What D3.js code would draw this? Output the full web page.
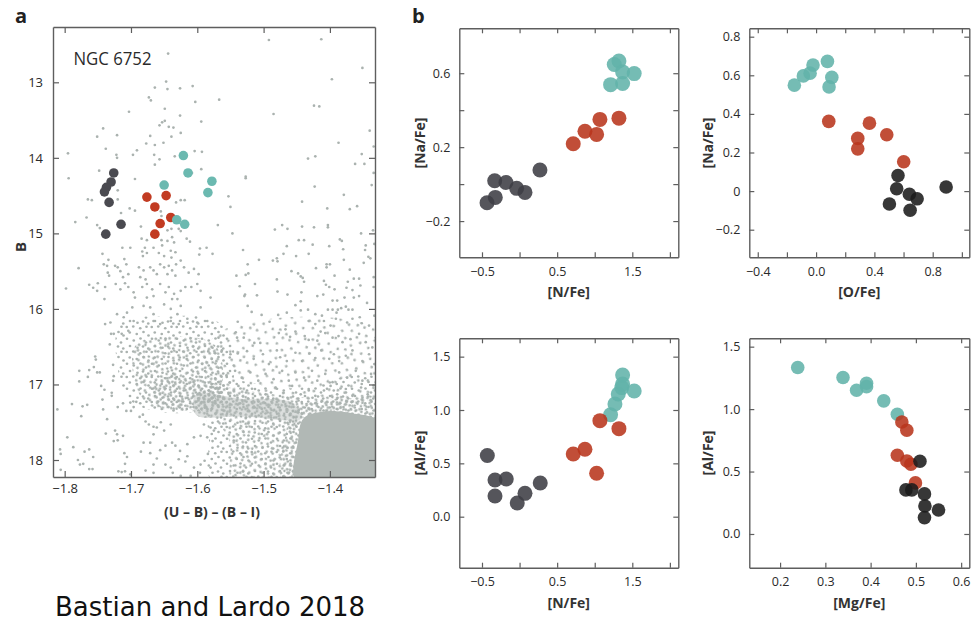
<!DOCTYPE html>
<html>
<head>
<meta charset="utf-8">
<script src="https://cdn.jsdelivr.net/npm/d3@7"></script>
<style>
  body { margin: 0; background: #fff; }
  svg { display: block; }
</style>
</head>
<body>
<svg id="fig" width="973" height="622"></svg>
<script>
// ---------------------------------------------------------------------------
// Panel a: NGC 6752 pseudo-colour–magnitude diagram
// ---------------------------------------------------------------------------

// Spectroscopic targets, [(U−B)−(B−I), B], grouped by population
const cmdPop1 = [[-1.726,14.20],[-1.730,14.32],[-1.737,14.39],[-1.740,14.45],[-1.733,14.59],[-1.715,14.88],[-1.738,15.01]];
const cmdPop2 = [[-1.676,14.52],[-1.647,14.50],[-1.664,14.65],[-1.640,14.79],[-1.656,14.87],[-1.664,15.01]];
const cmdPop3 = [[-1.621,13.97],[-1.614,14.20],[-1.650,14.36],[-1.578,14.31],[-1.584,14.46],[-1.631,14.82],[-1.619,14.88]];

// Photometric field, bright / sparse part
const fieldBright = [[-1.644,12.62],[-1.647,12.99],[-1.664,13.07],[-1.645,13.09],[-1.626,13.08],[-1.607,13.05],[-1.673,13.20],[-1.670,13.24],[-1.603,13.26],[-1.703,13.39],[-1.649,13.35],[-1.626,13.44],[-1.653,13.53],[-1.649,13.51],[-1.657,13.57],[-1.643,13.59],[-1.636,13.60],[-1.594,13.52],[-1.742,13.61],[-1.751,13.72],[-1.721,13.70],[-1.671,13.71],[-1.639,13.72],[-1.625,13.67],[-1.677,13.81],[-1.664,13.83],[-1.651,13.80],[-1.738,13.88],[-1.691,13.90],[-1.697,13.96],[-1.795,13.94],[-1.722,13.96],[-1.721,14.00],[-1.665,13.96],[-1.657,14.02],[-1.664,14.09],[-1.634,13.98],[-1.604,13.91],[-1.593,13.92],[-1.748,14.17],
  [-1.492,12.44],[-1.413,12.43],[-1.351,12.81],[-1.397,12.96],[-1.567,13.23],[-1.424,13.31],[-1.416,13.32],[-1.485,13.42],[-1.340,13.64],[-1.387,13.80],[-1.334,13.85],[-1.433,14.01],[-1.422,13.98],[-1.352,13.95],[-1.362,14.08],[-1.348,14.08],[-1.334,14.20],[-1.527,14.25],[-1.594,14.15],[-1.608,14.20]];

// Upper red-giant branch region
const fieldRGB = [[-1.794,14.27],[-1.694,14.28],[-1.720,14.43],[-1.720,14.55],[-1.765,14.55],[-1.759,14.56],[-1.625,14.56],[-1.619,14.56],[-1.632,14.59],[-1.702,14.67],[-1.694,14.70],[-1.715,14.73],[-1.767,14.79],[-1.784,14.85],[-1.751,14.89],[-1.747,14.93],[-1.685,14.91],[-1.640,14.83],[-1.645,14.96],[-1.639,14.94],[-1.655,14.71],[-1.654,14.77],[-1.628,14.94],[-1.625,14.97],[-1.616,15.07],[-1.611,15.11],[-1.638,15.05],[-1.635,15.12],[-1.645,15.10],[-1.713,15.19],[-1.701,15.19],[-1.684,15.07],[-1.676,15.09],[-1.666,15.19],[-1.654,15.09],[-1.653,15.16],[-1.679,15.19],[-1.683,15.24],[-1.682,15.30],[-1.676,15.26],[-1.658,15.26],[-1.650,15.30],[-1.640,15.23],[-1.633,15.25],[-1.639,15.32],[-1.625,15.36],[-1.632,15.41],[-1.596,15.20],[-1.586,15.19],[-1.597,15.28],[-1.743,15.27],[-1.734,15.35],[-1.741,15.41],[-1.736,15.43],[-1.724,15.43],[-1.720,15.45],[-1.710,15.34],[-1.707,15.41],[-1.779,15.46],[-1.735,15.52],[-1.733,15.56],[-1.716,15.50],[-1.712,15.58],[-1.704,15.54],[-1.688,15.45],[-1.681,15.49],[-1.686,15.58],[-1.678,15.61],[-1.671,15.45],[-1.666,15.49],[-1.661,15.54],[-1.656,15.41],[-1.650,15.45],[-1.643,15.43],[-1.638,15.49],[-1.645,15.54],[-1.633,15.56],[-1.620,15.45],[-1.613,15.52],[-1.605,15.47],[-1.598,15.54],[-1.798,15.73],[-1.763,15.68],[-1.757,15.72],[-1.750,15.66],[-1.751,15.76],[-1.739,15.71],[-1.740,15.87],[-1.723,15.67],[-1.716,15.74],[-1.709,15.66],[-1.704,15.71],[-1.696,15.78],[-1.694,15.85],[-1.683,15.71],[-1.676,15.67],[-1.668,15.74],[-1.666,15.83],[-1.676,15.85],[-1.656,15.67],[-1.648,15.78],[-1.643,15.71],[-1.635,15.80],[-1.625,15.76],[-1.630,15.87],[-1.638,15.87],[-1.618,15.71],[-1.609,15.71],[-1.600,15.67],[-1.595,15.76],[-1.681,15.96],[-1.671,15.98],[-1.666,16.07],[-1.650,15.94],[-1.640,16.00],[-1.630,16.07],[-1.625,15.96],[-1.721,16.07],[-1.711,16.11],[-1.706,16.05],[-1.696,16.16],[-1.698,15.98],[-1.739,16.20],[-1.731,16.18],[-1.666,16.16],[-1.656,16.20],[-1.640,16.16],[-1.628,16.20],[-1.615,16.13],[-1.600,16.18],[-1.585,16.16],[-1.577,15.27],[-1.580,15.85],[-1.595,15.98]];

// Redder field stars above the subgiant branch
const fieldRed = [[-1.527,14.27],[-1.423,14.38],[-1.379,14.49],[-1.337,14.36],[-1.553,14.51],[-1.550,14.65],[-1.442,14.58],[-1.404,14.67],[-1.370,14.68],[-1.359,14.64],[-1.569,14.89],[-1.547,15.00],[-1.483,14.95],[-1.472,14.89],[-1.464,14.94],[-1.442,14.91],[-1.424,14.92],[-1.403,14.89],[-1.403,14.92],[-1.353,15.00],[-1.335,14.96],[-1.447,15.09],[-1.439,15.09],[-1.385,15.08],[-1.382,15.10],[-1.465,15.17],[-1.426,15.15],[-1.401,15.17],[-1.380,15.21],[-1.346,15.16],[-1.347,15.22],[-1.531,15.22],[-1.480,15.33],[-1.479,15.37],[-1.486,15.36],[-1.470,15.27],[-1.451,15.30],[-1.432,15.27],[-1.507,15.35],[-1.524,15.41],[-1.421,15.46],[-1.405,15.41],[-1.405,15.45],[-1.400,15.41],[-1.393,15.56],[-1.379,15.35],[-1.370,15.48],[-1.349,15.39],[-1.342,15.31],[-1.339,15.33],[-1.458,15.50],[-1.448,15.53],[-1.444,15.57],[-1.441,15.59],[-1.439,15.64],[-1.527,15.55],[-1.523,15.53],[-1.541,15.56],[-1.536,15.70],[-1.513,15.67],[-1.480,15.61],[-1.479,15.77],[-1.528,15.81],[-1.529,15.83],[-1.510,15.82],[-1.464,15.81],[-1.443,15.78],[-1.409,15.63],[-1.406,15.68],[-1.401,15.71],[-1.393,15.74],[-1.419,15.83],[-1.410,15.81],[-1.373,15.64],[-1.364,15.60],[-1.356,15.60],[-1.354,15.69],[-1.366,15.75],[-1.375,15.72],[-1.378,15.85],[-1.364,15.85],[-1.356,15.83],[-1.334,15.71],[-1.344,15.92],[-1.524,15.96],[-1.518,16.04],[-1.503,16.08],[-1.478,16.08],[-1.491,16.17],[-1.539,16.17],[-1.465,16.05],[-1.452,15.95],[-1.444,15.90],[-1.444,16.02],[-1.433,16.01],[-1.422,16.07],[-1.412,16.09],[-1.403,16.01],[-1.396,16.01],[-1.390,16.05],[-1.388,16.01],[-1.383,15.99],[-1.376,15.97],[-1.372,16.01],[-1.366,16.01],[-1.396,15.89],[-1.389,15.89],[-1.374,16.18],[-1.366,16.13],[-1.355,16.11],[-1.352,16.19],[-1.341,16.22],[-1.333,16.09],[-1.432,16.16],[-1.422,16.20],[-1.409,16.16],[-1.399,16.22],[-1.391,16.13],[-1.333,15.14],[-1.334,15.58],
  [-1.568,16.38],[-1.542,16.31],[-1.540,16.38],[-1.530,16.38],[-1.514,16.45],[-1.505,16.45],[-1.477,16.32],[-1.467,16.27],[-1.460,16.37],[-1.452,16.30],[-1.438,16.36],[-1.432,16.41],[-1.419,16.42],[-1.414,16.30],[-1.407,16.32],[-1.396,16.38],[-1.387,16.36],[-1.381,16.44],[-1.369,16.40],[-1.356,16.33],[-1.346,16.44],[-1.336,16.51],[-1.331,16.38],
  [-1.563,16.55],[-1.550,16.60],[-1.539,16.59],[-1.525,16.56],[-1.515,16.66],[-1.501,16.60],[-1.492,16.73],[-1.480,16.55],[-1.475,16.64],[-1.465,16.69],[-1.452,16.58],[-1.442,16.69],[-1.431,16.59],[-1.422,16.65],[-1.413,16.55],[-1.401,16.66],[-1.394,16.60],[-1.386,16.69],[-1.376,16.62],[-1.366,16.55],[-1.351,16.69],[-1.341,16.60],[-1.333,16.73],
  [-1.568,16.78],[-1.556,16.88],[-1.543,16.82],[-1.533,16.91],[-1.520,16.84],[-1.508,16.95],[-1.497,16.86],[-1.485,16.93],[-1.472,16.82],[-1.462,16.95],[-1.452,16.84],[-1.439,16.91],[-1.427,16.82],[-1.419,16.95],[-1.407,16.86],[-1.396,16.97],[-1.386,16.84],[-1.374,16.91],[-1.361,16.82],[-1.351,16.95],[-1.338,16.86],[-1.331,16.97],
  [-1.566,17.04],[-1.553,17.11],[-1.538,17.02],[-1.525,17.08],[-1.513,17.06],[-1.497,17.13],[-1.482,17.04],[-1.470,17.11],[-1.457,17.02],[-1.444,17.13],[-1.432,17.06],[-1.422,17.15],[-1.409,17.08],[-1.399,17.02],[-1.389,17.13],[-1.376,17.06],[-1.366,17.15],[-1.353,17.04],[-1.343,17.13],[-1.332,17.08]];

// Faint blue field below the red-giant branch
const fieldFaint = [[-1.730,16.33],[-1.726,16.33],[-1.714,16.33],[-1.704,16.29],[-1.732,16.47],[-1.754,16.63],[-1.753,16.67],[-1.778,16.82],[-1.778,16.96],[-1.763,16.81],[-1.765,16.90],[-1.756,16.77],[-1.751,16.84],[-1.747,16.84],[-1.745,17.02],[-1.740,17.07],[-1.727,16.74],[-1.726,16.89],[-1.727,16.95],[-1.729,17.11],[-1.729,17.15],[-1.811,17.33],[-1.789,17.26],[-1.773,17.29],[-1.766,17.27],[-1.775,17.42],[-1.743,17.20],[-1.742,17.33],[-1.736,17.46],[-1.720,17.30],[-1.796,17.70],[-1.787,17.83],[-1.807,17.86],[-1.806,17.92],[-1.770,17.89],[-1.763,17.86],[-1.757,17.96],[-1.780,18.00],[-1.777,18.06],[-1.772,18.05],[-1.763,18.12],[-1.758,18.12],[-1.806,18.13],[-1.738,17.65],[-1.724,17.61],[-1.721,17.66],[-1.726,17.75],[-1.720,17.74],[-1.712,17.68],[-1.710,17.91],[-1.709,18.05],[-1.706,17.96],[-1.719,18.15],[-1.714,18.16],[-1.709,18.15],[-1.701,18.19],[-1.681,17.77],[-1.671,17.77],[-1.666,17.66],[-1.666,17.56],[-1.661,17.57],[-1.678,17.49],[-1.673,17.53],[-1.655,17.50],[-1.650,17.61],[-1.640,17.53],[-1.638,17.77],[-1.648,17.81],[-1.685,17.89],[-1.671,17.91],[-1.661,17.98],[-1.656,17.87],[-1.678,18.14],[-1.666,18.17],[-1.666,18.06],[-1.648,18.06],[-1.640,18.10],[-1.637,18.17],[-1.633,17.81],[-1.626,17.88],[-1.628,17.99],[-1.618,18.02],[-1.615,17.95],[-1.605,18.10],[-1.595,18.06],[-1.596,18.17],[-1.610,18.21],[-1.625,18.21],[-1.589,18.01],[-1.584,17.92],[-1.580,18.10],[-1.577,17.75],[-1.585,17.70],[-1.595,17.68],[-1.605,17.70],[-1.615,17.79],[-1.590,17.53],[-1.580,17.57],[-1.575,17.61],[-1.701,17.24],[-1.696,17.30],[-1.687,17.43],[-1.682,17.40],[-1.712,17.25],[-1.707,17.35],[-1.692,17.23],[-1.700,17.35]];

// Crowded sequences, outlined as density regions [(U−B)−(B−I), B]
const regionRGBBody = [[-1.7155,16.18],[-1.6474,16.10],[-1.5732,16.15],[-1.546,16.48],[-1.5565,17.21],[-1.6096,17.37],[-1.6701,17.34],[-1.7035,17.19],[-1.7217,16.68]];
const regionRGBCore = [[-1.6929,16.48],[-1.6323,16.36],[-1.5732,16.48],[-1.5611,16.84],[-1.5732,17.28],[-1.6171,17.34],[-1.6701,17.29],[-1.6914,17.05]];
const regionRGBBase = [[-1.6640,16.95],[-1.6020,16.92],[-1.5650,17.05],[-1.5730,17.30],[-1.6200,17.35],[-1.6620,17.27]];
const regionRedField = [[-1.5732,16.35],[-1.3277,16.28],[-1.3277,17.15],[-1.5732,17.19]];
const regionLowerField = [[-1.5868,16.97],[-1.4580,17.05],[-1.3277,16.92],[-1.3217,18.30],[-1.5762,18.30],[-1.5823,17.68]];
const regionSubgiant = [[-1.594,17.05],[-1.5035,17.11],[-1.4428,17.17],[-1.3277,17.19],[-1.3277,17.50],[-1.4489,17.48],[-1.4550,18.30],[-1.5459,18.30],[-1.5520,17.74],[-1.5762,17.45],[-1.594,17.34]];
const regionSGBBand = [[-1.602,17.13],[-1.534,17.19],[-1.458,17.24],[-1.443,17.45],[-1.534,17.42],[-1.602,17.40]];
const regionMSHalo = [[-1.4701,18.30],[-1.4656,17.61],[-1.4580,17.34],[-1.4126,17.21],[-1.3277,17.28],[-1.3217,18.30]];
const regionMSCore = [[-1.450,18.30],[-1.448,17.74],[-1.440,17.45],[-1.4126,17.36],[-1.3672,17.38],[-1.3247,17.50],[-1.3217,18.30]];

const cmdXTicks = [-1.8, -1.7, -1.6, -1.5, -1.4];
const cmdXLabels = ["\u22121.8", "\u22121.7", "\u22121.6", "\u22121.5", "\u22121.4"];
const cmdYTicks = [13, 14, 15, 16, 17, 18];
const cmdYLabels = ["13", "14", "15", "16", "17", "18"];

// ---------------------------------------------------------------------------
// Panel b: light-element abundances of the same giants
// ---------------------------------------------------------------------------
// [N/Fe] vs [Na/Fe]
const naN_P1 = [[-0.433,-0.101],[-0.323,-0.072],[-0.331,0.018],[-0.181,0.009],[-0.039,-0.023],[0.072,-0.045],[0.271,0.076]];
const naN_P2 = [[0.714,0.218],[0.870,0.286],[1.025,0.269],[1.069,0.350],[1.322,0.357]];
const naN_P3 = [[1.322,0.666],[1.260,0.647],[1.371,0.607],[1.525,0.598],[1.211,0.538],[1.371,0.544]];
// [O/Fe] vs [Na/Fe]
const naO_P1 = [[0.562,0.081],[0.553,0.012],[0.503,-0.067],[0.640,-0.016],[0.693,-0.040],[0.645,-0.099],[0.892,0.021]];
const naO_P2 = [[0.087,0.361],[0.286,0.273],[0.286,0.219],[0.366,0.352],[0.485,0.292],[0.601,0.152]];
const naO_P3 = [[-0.149,0.549],[-0.087,0.597],[-0.041,0.611],[-0.021,0.653],[0.078,0.672],[0.108,0.589],[0.089,0.540]];
// [N/Fe] vs [Al/Fe]
const alN_P1 = [[-0.429,0.574],[-0.327,0.344],[-0.327,0.194],[-0.177,0.353],[-0.031,0.128],[0.072,0.219],[0.275,0.316]];
const alN_P2 = [[0.714,0.588],[0.870,0.632],[1.025,0.407],[1.069,0.900],[1.322,0.825]];
const alN_P3 = [[1.211,0.956],[1.269,1.056],[1.313,1.150],[1.360,1.210],[1.371,1.244],[1.371,1.328],[1.525,1.178]];
// [Mg/Fe] vs [Al/Fe]
const alMg_P1 = [[0.509,0.582],[0.478,0.353],[0.491,0.353],[0.519,0.321],[0.520,0.224],[0.519,0.131],[0.550,0.192]];
const alMg_P2 = [[0.469,0.897],[0.480,0.831],[0.459,0.630],[0.480,0.585],[0.489,0.558],[0.499,0.409]];
const alMg_P3 = [[0.239,1.333],[0.339,1.253],[0.369,1.151],[0.391,1.207],[0.391,1.180],[0.429,1.066],[0.459,0.959]];

const nTicks = [-0.5, 0, 0.5, 1, 1.5, 2];
const nLabels = ["\u22120.5", "", "0.5", "", "1.5", ""];
const naTicksA = [-0.2, 0, 0.2, 0.4, 0.6];
const naLabelsA = ["\u22120.2", "", "0.2", "", "0.6"];
const oTicks = [-0.4, -0.2, 0, 0.2, 0.4, 0.6, 0.8, 1.0];
const oLabels = ["\u22120.4", "", "0.0", "", "0.4", "", "0.8", ""];
const naTicksB = [-0.2, 0, 0.2, 0.4, 0.6, 0.8];
const naLabelsB = ["\u22120.2", "0", "0.2", "0.4", "0.6", "0.8"];
const alTicks = [0, 0.5, 1.0, 1.5];
const alLabels = ["0.0", "0.5", "1.0", "1.5"];
const mgTicks = [0.2, 0.3, 0.4, 0.5, 0.6];
const mgLabels = ["0.2", "0.3", "0.4", "0.5", "0.6"];

// ---------------------------------------------------------------------------
// Styling
// ---------------------------------------------------------------------------
const FIELD = "#aab2af";
const FIELD_CORE = "#b1b8b5";
const STAR_R = 1.35;
const AXIS = "#5e5e5e";
const TEXT = "#2a2a2a";
const FONT = "'Open Sans', 'Noto Sans', sans-serif";
const cmdColors = ["#4a4a50", "#c23b22", "#6bb9b0"];
const abColorsDark = ["#3e3e44", "#b8361c", "#62b3aa"];
const abColorsBlack = ["#1b1b1b", "#b8361c", "#62b3aa"];

const svg = d3.select("#fig");
svg.append("rect").attr("width", 973).attr("height", 622).attr("fill", "#fff");
const defs = svg.append("defs");

// Stipple textures for the crowded sequences
const stippleTile = [[0.07,0.08],[0.33,0.06],[0.61,0.13],[0.86,0.07],[0.19,0.30],[0.47,0.36],[0.74,0.28],[0.94,0.42],[0.08,0.55],[0.35,0.62],[0.62,0.54],[0.84,0.70],[0.20,0.84],[0.50,0.91],[0.72,0.86],[0.93,0.94]];
function stipple(id, size, rot) {
  const p = defs.append("pattern").attr("id", id)
    .attr("patternUnits", "userSpaceOnUse")
    .attr("width", size).attr("height", size)
    .attr("patternTransform", `rotate(${rot})`);
  p.selectAll("circle").data(stippleTile).join("circle")
    .attr("cx", d => d[0] * size).attr("cy", d => d[1] * size)
    .attr("r", STAR_R).attr("fill", FIELD);
}
stipple("stippleLight", 34, 17);
stipple("stippleMed", 25, 0);
stipple("stippleDense", 22, 33);
stipple("stippleExtra", 20, 71);

// Frame with inward ticks on all four sides
function frame(g, x, y, xt, xl, yt, yl, o) {
  const [x0, x1] = x.range();
  const [y0, y1] = y.range();
  const lab = (ticks, labels) => d => labels[ticks.indexOf(d)];
  const axes = [
    g.append("g").attr("transform", `translate(0,${y0})`)
      .call(d3.axisBottom(x).tickValues(xt).tickFormat(lab(xt, xl)).tickSize(-o.tick).tickSizeOuter(0).tickPadding(o.xPad)),
    g.append("g").attr("transform", `translate(0,${y1})`)
      .call(d3.axisTop(x).tickValues(xt).tickFormat("").tickSize(-o.tick).tickSizeOuter(0)),
    g.append("g").attr("transform", `translate(${x0},0)`)
      .call(d3.axisLeft(y).tickValues(yt).tickFormat(lab(yt, yl)).tickSize(-o.tick).tickSizeOuter(0).tickPadding(o.yPad)),
    g.append("g").attr("transform", `translate(${x1},0)`)
      .call(d3.axisRight(y).tickValues(yt).tickFormat("").tickSize(-o.tick).tickSizeOuter(0))
  ];
  axes.forEach(a => a.attr("font-family", FONT).attr("font-size", o.font));
  g.selectAll(".domain").attr("stroke", AXIS).attr("stroke-width", 1.4);
  g.selectAll(".tick line").attr("stroke", AXIS).attr("stroke-width", 1.2);
  g.selectAll(".tick text").attr("fill", TEXT);
}

function title(text, x, y, rotate, size) {
  const t = svg.append("text").text(text)
    .attr("font-family", FONT).attr("font-weight", 700)
    .attr("font-size", size).attr("fill", "#333").attr("text-anchor", "middle");
  if (rotate) t.attr("transform", `translate(${x},${y}) rotate(-90)`);
  else t.attr("x", x).attr("y", y);
  return t;
}

// ---------------------------------------------------------------------------
// Panel a
// ---------------------------------------------------------------------------
const xa = d3.scaleLinear().domain([-1.8176, -1.332]).range([53, 375]);
const ya = d3.scaleLinear().domain([18.225, 12.268]).range([477, 27]);

defs.append("clipPath").attr("id", "clipA").append("rect")
  .attr("x", 53).attr("y", 27).attr("width", 322).attr("height", 450);

const ga = svg.append("g");
const plotA = ga.append("g").attr("clip-path", "url(#clipA)");
const area = d3.line().x(d => xa(d[0])).y(d => ya(d[1])).curve(d3.curveCatmullRomClosed.alpha(0.5));

function region(pts, fill, opacity) {
  plotA.append("path").datum(pts).attr("d", area).attr("fill", fill).attr("fill-opacity", opacity || 1);
}
region(regionRGBBody, "url(#stippleMed)");
region(regionRedField, "url(#stippleLight)");
region(regionLowerField, "url(#stippleMed)");
region(regionRGBCore, "url(#stippleDense)");
region(regionRGBBase, "url(#stippleExtra)");
region(regionSubgiant, "url(#stippleDense)");
region(regionSGBBand, "url(#stippleExtra)");
region(regionSGBBand, FIELD_CORE, 0.45);
region(regionMSHalo, "url(#stippleExtra)");
region(regionMSCore, FIELD_CORE);

[fieldBright, fieldRGB, fieldRed, fieldFaint].forEach(set => {
  plotA.append("g").selectAll("circle").data(set).join("circle")
    .attr("cx", d => xa(d[0])).attr("cy", d => ya(d[1]))
    .attr("r", STAR_R).attr("fill", FIELD);
});

[cmdPop1, cmdPop2, cmdPop3].forEach((set, i) => {
  plotA.append("g").selectAll("circle").data(set).join("circle")
    .attr("cx", d => xa(d[0])).attr("cy", d => ya(d[1]))
    .attr("r", 4.8).attr("fill", cmdColors[i]);
});

frame(ga, xa, ya, cmdXTicks, cmdXLabels, cmdYTicks, cmdYLabels, { tick: 6, xPad: 7, yPad: 10, font: 13 });

svg.append("text").text("NGC 6752").attr("x", 73.5).attr("y", 65)
  .attr("font-family", FONT).attr("font-size", 18).attr("fill", TEXT)
  .attr("textLength", 78).attr("lengthAdjust", "spacingAndGlyphs");
title("B", 25.5, 247, true, 15);
title("(U \u2013 B) \u2013 (B \u2013 I)", 212, 517, false, 14);

// ---------------------------------------------------------------------------
// Panel b
// ---------------------------------------------------------------------------
function abundancePanel(xDom, yDom, box, groups, colors, r, ticks) {
  const x = d3.scaleLinear().domain(xDom).range([box[0], box[1]]);
  const y = d3.scaleLinear().domain(yDom).range([box[3], box[2]]);
  const g = svg.append("g");
  groups.forEach((set, i) => {
    g.append("g").selectAll("circle").data(set).join("circle")
      .attr("cx", d => x(d[0])).attr("cy", d => y(d[1]))
      .attr("r", r).attr("fill", colors[i]).attr("fill-opacity", 0.88);
  });
  frame(g, x, y, ticks[0], ticks[1], ticks[2], ticks[3], { tick: 5, xPad: 9.5, yPad: 9, font: 12.5 });
}

abundancePanel([-0.802, 2.112], [-0.396, 0.843], [459.3, 678.3, 28.3, 257.3],
  [naN_P3, naN_P2, naN_P1], [abColorsDark[2], abColorsDark[1], abColorsDark[0]], 7.5,
  [nTicks, nLabels, naTicksA, naLabelsA]);
abundancePanel([-0.458, 1.051], [-0.343, 0.8435], [749.3, 969.3, 28.3, 257.3],
  [naO_P3, naO_P2, naO_P1], [abColorsBlack[2], abColorsBlack[1], abColorsBlack[0]], 6.8,
  [oTicks, oLabels, naTicksB, naLabelsB]);
abundancePanel([-0.802, 2.112], [-0.478, 1.672], [459.3, 678.3, 338.3, 567.7],
  [alN_P3, alN_P2, alN_P1], [abColorsDark[2], abColorsDark[1], abColorsDark[0]], 7.5,
  [nTicks, nLabels, alTicks, alLabels]);
abundancePanel([0.132, 0.618], [-0.270, 1.567], [749.3, 969.3, 338.3, 567.7],
  [alMg_P3, alMg_P2, alMg_P1], [abColorsBlack[2], abColorsBlack[1], abColorsBlack[0]], 6.8,
  [mgTicks, mgLabels, alTicks, alLabels]);

title("[Na/Fe]", 425, 143, true, 14);
title("[Na/Fe]", 713, 143, true, 14);
title("[Al/Fe]", 425, 453, true, 14);
title("[Al/Fe]", 713, 453, true, 14);
title("[N/Fe]", 568.8, 297, false, 14);
title("[O/Fe]", 859.3, 297, false, 14);
title("[N/Fe]", 568.8, 608, false, 14);
title("[Mg/Fe]", 859.3, 608, false, 14);

// Panel letters and credit
svg.append("text").text("a").attr("x", 15).attr("y", 23)
  .attr("font-family", FONT).attr("font-weight", 700).attr("font-size", 20).attr("fill", "#222");
svg.append("text").text("b").attr("x", 412).attr("y", 23)
  .attr("font-family", FONT).attr("font-weight", 700).attr("font-size", 20).attr("fill", "#222");
svg.append("text").text("Bastian and Lardo 2018").attr("x", 55).attr("y", 616)
  .attr("font-family", "'DejaVu Sans', sans-serif").attr("font-size", 26).attr("fill", "#111");
</script>
</body>
</html>
